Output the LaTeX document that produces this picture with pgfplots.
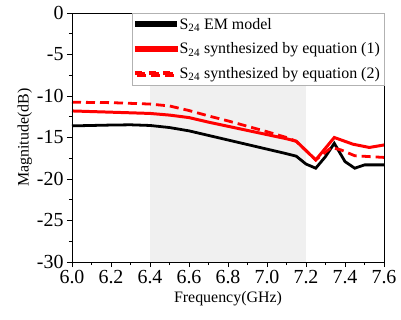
\documentclass[border=0pt]{standalone}
\usepackage{fontspec}
\setmainfont{Liberation Serif}
\usepackage{pgfplots}
\pgfplotsset{compat=1.18}

\begin{document}
\begin{tikzpicture}
\useasboundingbox (-72bp,-58bp) rectangle (329bp,262bp);
\begin{axis}[
  scale only axis,
  width=312bp, height=249bp,
  xmin=6.0, xmax=7.6, ymin=-30, ymax=0,
  xtick={6.0,6.2,...,7.6},
  ytick={-30,-25,...,0},
  minor x tick num=1,
  minor y tick num=1,
  tick align=outside,
  xtick pos=bottom, ytick pos=left,
  major tick length=5bp, minor tick length=3bp,
  every tick/.style={black, line width=0.8pt},
  axis line style={line width=0.8pt},
  /pgf/number format/assume math mode=true,
  x tick label style={/pgf/number format/.cd, fixed, fixed zerofill, precision=1, /tikz/.cd, font=\fontsize{20}{20}\selectfont},
  y tick label style={font=\fontsize{20}{20}\selectfont},
  xlabel={Frequency(GHz)},
  ylabel={Magnitude(dB)},
  xlabel style={font=\fontsize{16}{16}\selectfont, yshift=-1bp},
  ylabel style={font=\fontsize{16}{16}\selectfont, yshift=-2bp},
  axis on top,
  legend style={at={(1,1)}, anchor=north east, draw=gray!60, fill=white,
    font=\fontsize{16}{16}\selectfont, inner xsep=2pt, inner ysep=3pt, row sep=8bp,
    legend cell align=left},
]
% shaded band 6.4--7.2 GHz
\addplot[fill=black!6, draw=none, forget plot] coordinates {(6.4,-30) (7.2,-30) (7.2,0) (6.4,0)} -- cycle;

\addplot[draw=black, line width=2.8pt,
  legend image code/.code={\fill[black] (0bp,-1.6pt) rectangle (40bp,1.6pt);}] coordinates {
(6.0,-13.6) (6.1,-13.55) (6.2,-13.5) (6.3,-13.47) (6.4,-13.55) (6.5,-13.8)
(6.6,-14.2) (6.7,-14.75) (6.8,-15.3) (6.9,-15.85) (7.0,-16.4) (7.1,-16.95)
(7.15,-17.25) (7.2,-18.2) (7.25,-18.7) (7.3,-17.3) (7.345,-15.7) (7.4,-17.9)
(7.45,-18.7) (7.5,-18.3) (7.6,-18.3)};
\addlegendentry{S\textsubscript{24} EM model}

\addplot[draw=red, line width=3pt,
  legend image code/.code={\fill[red] (0bp,-1.6pt) rectangle (40bp,1.6pt);}] coordinates {
(6.0,-11.8) (6.2,-11.95) (6.4,-12.1) (6.5,-12.3) (6.6,-12.6) (6.7,-13.15)
(6.8,-13.65) (6.9,-14.15) (7.0,-14.65) (7.1,-15.15) (7.15,-15.45)
(7.25,-17.7) (7.345,-15.0) (7.44,-15.8) (7.525,-16.2) (7.6,-15.9)};
\addlegendentry{S\textsubscript{24} synthesized by equation (1)}

\addplot[draw=red, line width=2.8pt, dash pattern=on 9bp off 5bp,
  legend image code/.code={
    \fill[red] (0bp,-1.6pt) rectangle (9bp,1.6pt);
    \fill[red] (14bp,-1.6pt) rectangle (23bp,1.6pt);
    \fill[red] (28bp,-1.6pt) rectangle (37bp,1.6pt);}] coordinates {
(6.0,-10.75) (6.2,-10.8) (6.4,-10.97) (6.5,-11.2) (6.6,-11.75) (6.7,-12.4)
(6.8,-13.0) (6.9,-13.65) (7.0,-14.3) (7.1,-15.0) (7.15,-15.45)
(7.25,-17.7) (7.33,-16.2) (7.38,-16.5) (7.45,-17.2) (7.6,-17.4)};
\addlegendentry{S\textsubscript{24} synthesized by equation (2)}
\end{axis}
\end{tikzpicture}
\end{document}
